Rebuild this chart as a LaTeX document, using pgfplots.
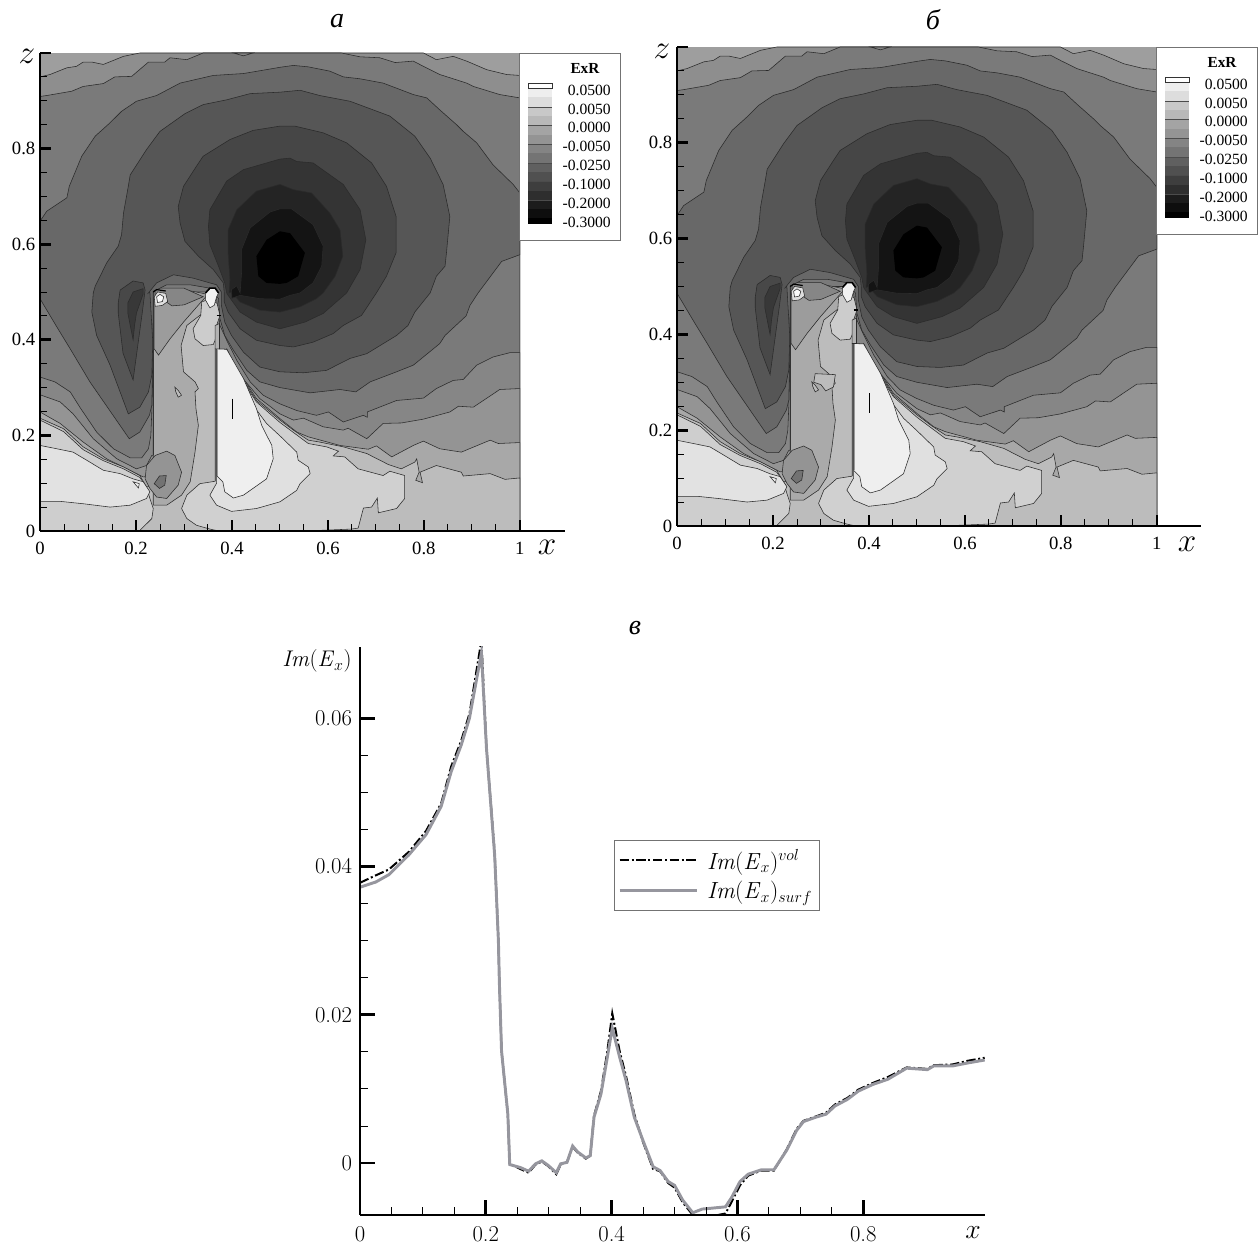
\documentclass[border=0pt]{standalone}
\usepackage{pgfplots}
\usepackage{fontspec}
\pgfplotsset{compat=1.18}
\newfontfamily\ts{Liberation Serif}
\definecolor{lc}{gray}{0.17}
\definecolor{gs}{RGB}{150,150,158}
\newcommand{\dg}[1]{\definecolor{g#1}{RGB}{#1,#1,#1}}
\dg{158}\dg{142}\dg{148}\dg{138}\dg{122}\dg{132}\dg{134}\dg{168}\dg{188}\dg{170}\dg{156}\dg{114}\dg{206}\dg{226}\dg{240}\dg{208}\dg{224}\dg{239}\dg{204}\dg{178}\dg{104}\dg{86}\dg{70}\dg{52}\dg{36}\dg{20}\dg{72}\dg{56}\dg{222}\dg{250}\dg{242}
\pgfplotsset{
  fld/.style={fill=#1,draw=lc,line width=0.42pt,no marks,forget plot},
  nol/.style={fill=#1,draw=none,no marks,forget plot},
  panel/.style={
    scale only axis,axis on top,axis lines=left,clip=true,
    axis line style={-,line width=2.2pt,black},
    tick align=inside,
    major tick length=8pt,minor tick length=5pt,
    major tick style={line width=2pt,black},
    minor tick style={line width=0.7pt,black},
    minor x tick num=3,minor y tick num=3,
    tick label style={font=\fontsize{14}{14}\selectfont\ts},
    xticklabel style={yshift=-4.5pt},
    xtick={0,0.2,0.4,0.6,0.8,1},xticklabels={0,0.2,0.4,0.6,0.8,1},
    ytick={0,0.2,0.4,0.6,0.8,1},yticklabels={0,0.2,0.4,0.6,0.8,{}},
    ymin=0,ymax=1,xmin=0,
  }
}
\newcommand{\contours}{%
\addplot[nol=g158] coordinates {(0,0)(1,0)(1,1)(0,1)} --cycle;
\addplot[fld=g142] coordinates {(0,.950)(.021,.955)(.056,.969)(.076,.972)(.090,.981)(.108,.981)(.132,.976)(.174,.993)(.208,1)(.799,1)(.826,.986)(.861,.993)(.889,.983)(.931,.965)(.972,.955)(1,.953)(1,0)(0,0)} --cycle;
\addplot[fld=g122] coordinates {(0,.909)(.014,.911)(.066,.920)(.090,.930)(.132,.936)(.156,.950)(.191,.951)(.226,.981)(.260,.981)(.271,.990)(.306,.986)(.340,1)(.628,1)(.667,.992)(.708,.990)(.740,.980)(.778,.983)(.799,.972)(.833,.955)(.889,.937)(.903,.930)(.958,.913)(1,.906)(1,0)(0,0)} --cycle;
\addplot[fld=g132] coordinates {(.403,1)(.424,.994)(.444,1)} --cycle;
% lower bands
\addplot[fld=g134] coordinates {(0,.322)(.031,.312)(.063,.291)(.083,.259)(.118,.207)(.153,.172)(.188,.153)(.212,.153)(.226,.172)(.231,.2)(.233,.25)(.236,.36)(.236,.49)(.26,.49)(.368,.486)(.375,.430)(.389,.399)(.410,.357)(.438,.312)(.465,.284)(.5,.266)(.535,.252)(.576,.242)(.601,.249)(.632,.228)(.674,.242)(.682,.238)(.682,.249)(.743,.273)(.799,.278)(.826,.298)(.861,.315)(.882,.317)(.910,.347)(.944,.364)(.979,.373)(1,.373)(1,0)(0,0)} --cycle;
\addplot[fld=g148] coordinates {(0,.285)(.042,.270)(.069,.245)(.111,.193)(.160,.151)(.201,.130)(.222,.137)(.233,.158)(.26,.16)(.389,.381)(.417,.326)(.458,.277)(.5,.245)(.528,.232)(.549,.236)(.590,.218)(.632,.211)(.642,.215)(.681,.193)(.715,.225)(.753,.226)(.799,.234)(.854,.249)(.872,.261)(.903,.259)(.958,.296)(1,.298)(1,0)(0,0)} --cycle;
\addplot[fld=g168] coordinates {(0,.249)(.042,.225)(.090,.186)(.139,.151)(.181,.130)(.215,.113)(.26,.12)(.392,.371)(.417,.329)(.451,.277)(.5,.235)(.535,.207)(.559,.197)(.625,.179)(.684,.171)(.701,.178)(.733,.155)(.778,.179)(.799,.188)(.833,.172)(.878,.165)(.938,.190)(.955,.183)(1,.185)(1,0)(0,0)} --cycle;
\addplot[fld=g188] coordinates {(0,.236)(.049,.214)(.090,.176)(.132,.151)(.174,.134)(.208,.116)(.222,.092)(.26,.1)(.389,.380)(.417,.326)(.451,.273)(.5,.232)(.528,.211)(.559,.190)(.583,.186)(.632,.176)(.681,.162)(.726,.139)(.753,.130)(.781,.144)(.785,.151)(.790,.123)(.783,.106)(.797,.101)(.792,.123)(.826,.137)(.878,.123)(.882,.115)(.938,.120)(.969,.108)(1,.111)(1,0)(0,0)} --cycle;
% mid region between the plates
\addplot[nol=g188] coordinates {(.236,.002)(.236,.5)(.366,.5)(.366,.002)} --cycle;
\addplot[fld=g170] coordinates {(.347,.462)(.306,.430)(.294,.388)(.299,.333)(.323,.312)(.330,.298)(.323,.291)(.325,.256)(.330,.221)(.323,.165)(.313,.103)(.295,.075)(.264,.054)(.236,.054)(.236,.5)(.347,.5)} --cycle;
\addplot[fld=g156] coordinates {(.238,.381)(.247,.368)(.271,.402)(.299,.437)(.333,.476)(.35,.495)(.300,.505)(.238,.505)} --cycle;
\addplot[fld=g134] coordinates {(.240,.495)(.275,.471)(.3,.473)(.34,.490)(.30,.508)(.24,.508)} --cycle;
\addplot[fld=g148] coordinates {(.240,.158)(.264,.167)(.281,.158)(.295,.123)(.288,.096)(.264,.068)(.243,.071)(.229,.089)(.219,.109)(.222,.137)} --cycle;
\addplot[fld=g114] coordinates {(.238,.099)(.249,.115)(.263,.116)(.260,.096)(.249,.089)} --cycle;
\addplot[fld=g188] coordinates {(.281,.301)(.288,.294)(.295,.284)(.288,.280)(.283,.291)} --cycle;
% lower left
\addplot[fld=g206] coordinates {(0,.232)(.049,.208)(.090,.170)(.132,.147)(.174,.130)(.208,.112)(.222,.092)(.229,.068)(.236,.047)(.233,.026)(.208,.001)(0,.001)} --cycle;
\addplot[fld=g226] coordinates {(0,.179)(.035,.172)(.069,.165)(.104,.144)(.132,.127)(.167,.120)(.194,.109)(.215,.103)(.229,.082)(.222,.068)(.188,.054)(.146,.050)(.090,.057)(.042,.062)(0,.062)} --cycle;
\addplot[fld=g240] coordinates {(.194,.103)(.207,.099)(.205,.090)} --cycle;
% body right of the second plate
\addplot[fld=g208] coordinates {(.389,.380)(.417,.322)(.451,.270)(.5,.227)(.559,.183)(.597,.176)(.622,.167)(.611,.157)(.635,.155)(.663,.130)(.715,.116)(.729,.125)(.760,.116)(.760,.068)(.743,.047)(.705,.038)(.703,.069)(.691,.050)(.674,.048)(.663,.006)(.649,.004)(.576,.001)(.368,.001)(.354,.004)(.326,.012)(.306,.026)(.295,.047)(.306,.075)(.333,.099)(.365,.104)(.365,.381)} --cycle;
\addplot[fld=g224] coordinates {(.354,.075)(.368,.054)(.399,.041)(.451,.047)(.5,.061)(.535,.085)(.542,.099)(.563,.120)(.559,.134)(.538,.148)(.535,.165)(.5,.199)(.472,.225)(.444,.263)(.417,.312)(.39,.375)(.368,.38)(.368,.10)} --cycle;
\addplot[fld=g239] coordinates {(.368,.381)(.389,.380)(.396,.368)(.424,.319)(.451,.256)(.462,.221)(.483,.179)(.486,.151)(.472,.109)(.424,.075)(.403,.069)(.385,.082)(.381,.103)(.368,.116)(.368,.221)} --cycle;
\addplot[fld=g204] coordinates {(.337,.479)(.335,.451)(.319,.423)(.323,.402)(.340,.388)(.361,.390)(.365,.399)(.368,.430)(.375,.451)(.369,.476)(.354,.486)} --cycle;
\addplot[fld=g178] coordinates {(.365,.381)(.365,.43)(.374,.434)(.374,.381)} --cycle;
% dark field
\addplot[fld=g104] coordinates {(0,.648)(.014,.669)(.056,.697)(.061,.721)(.087,.784)(.115,.826)(.146,.854)(.170,.878)(.201,.899)(.243,.911)(.292,.937)(.361,.953)(.424,.957)(.5,.970)(.528,.974)(.559,.971)(.604,.962)(.632,.950)(.667,.946)(.715,.937)(.778,.913)(.806,.906)(.833,.881)(.868,.850)(.882,.836)(.910,.812)(.944,.766)(.986,.725)(1,.707)(1,.578)(.962,.564)(.913,.498)(.896,.472)(.888,.450)(.844,.409)(.833,.392)(.778,.347)(.743,.333)(.688,.312)(.658,.291)(.625,.296)(.563,.289)(.5,.300)(.458,.312)(.431,.336)(.403,.378)(.385,.409)(.375,.444)(.372,.486)(.354,.508)(.313,.515)(.264,.515)(.236,.501)(.235,.361)(.233,.263)(.228,.242)(.208,.207)(.186,.193)(.104,.312)(.063,.381)(.035,.427)(0,.486)} --cycle;
\addplot[fld=g86] coordinates {(.111,.498)(.115,.512)(.139,.561)(.163,.596)(.170,.620)(.174,.665)(.184,.721)(.188,.745)(.222,.798)(.25,.836)(.302,.873)(.340,.892)(.389,.902)(.438,.915)(.5,.918)(.542,.922)(.583,.911)(.646,.899)(.729,.868)(.781,.826)(.813,.780)(.840,.725)(.854,.658)(.847,.582)(.844,.554)(.826,.533)(.813,.498)(.781,.458)(.767,.430)(.743,.409)(.681,.371)(.646,.361)(.597,.336)(.549,.331)(.5,.333)(.458,.343)(.424,.374)(.399,.409)(.385,.437)(.378,.472)(.378,.5)(.368,.515)(.319,.529)(.278,.536)(.243,.519)(.226,.498)(.229,.5)(.235,.395)(.233,.326)(.226,.291)(.208,.259)(.184,.245)(.146,.347)(.118,.409)(.108,.458)} --cycle;
\addplot[fld=g70] coordinates {(.384,.498)(.382,.519)(.361,.547)(.330,.575)(.302,.606)(.292,.644)(.288,.679)(.299,.721)(.326,.763)(.340,.784)(.396,.819)(.444,.838)(.5,.847)(.531,.847)(.590,.833)(.639,.812)(.691,.770)(.722,.721)(.742,.658)(.742,.582)(.722,.533)(.701,.498)(.670,.451)(.632,.430)(.611,.413)(.569,.395)(.528,.385)(.5,.388)(.451,.399)(.417,.423)(.392,.458)(.384,.479)} --cycle;
\addplot[fld=g52] coordinates {(.389,.498)(.385,.519)(.372,.554)(.354,.599)(.351,.637)(.354,.672)(.389,.732)(.424,.756)(.5,.778)(.521,.780)(.535,.773)(.569,.770)(.632,.725)(.667,.672)(.679,.609)(.667,.547)(.639,.498)(.590,.455)(.552,.437)(.5,.423)(.451,.437)(.417,.458)(.392,.493)} --cycle;
\addplot[fld=g36] coordinates {(.394,.498)(.396,.526)(.392,.582)(.392,.630)(.410,.672)(.451,.711)(.5,.725)(.528,.714)(.566,.707)(.604,.665)(.625,.630)(.631,.575)(.615,.533)(.590,.498)(.576,.486)(.542,.469)(.5,.458)(.458,.462)(.417,.479)(.399,.5)} --cycle;
\addplot[fld=g20] coordinates {(.417,.498)(.420,.540)(.420,.589)(.438,.634)(.479,.667)(.5,.674)(.524,.674)(.569,.641)(.590,.596)(.587,.554)(.569,.519)(.542,.498)(.521,.493)(.5,.485)(.458,.486)(.417,.493)(.40,.487)(.399,.505)(.41,.513)} --cycle;
\addplot[nol=black] coordinates {(.5,.627)(.472,.609)(.451,.575)(.455,.533)(.472,.519)(.5,.517)(.514,.519)(.538,.533)(.552,.582)(.521,.623)} --cycle;
% lobe left of the first plate
\addplot[fld=g72] coordinates {(.163,.477)(.167,.504)(.194,.523)(.215,.519)(.219,.504)(.213,.456)(.194,.316)(.173,.372)(.163,.456)} --cycle;
\addplot[fld=g56] coordinates {(.183,.477)(.194,.500)(.215,.507)(.215,.496)(.201,.456)(.197,.43)(.194,.40)(.19,.42)(.183,.456)} --cycle;
% plate tips
\addplot[fld=g222] coordinates {(.238,.49)(.245,.5)(.262,.497)(.266,.48)(.255,.472)(.24,.47)} --cycle;
\addplot[fld=g250] coordinates {(.243,.49)(.25,.495)(.258,.49)(.255,.48)(.245,.478)} --cycle;
\addplot[fld=g242] coordinates {(.345,.498)(.354,.508)(.365,.508)(.372,.498)(.368,.49)(.363,.472)(.354,.467)(.345,.483)} --cycle;
\addplot[black,line width=1.2pt,no marks,forget plot] coordinates {(.345,.498)(.354,.508)(.365,.508)(.372,.498)};
\addplot[black,line width=0.9pt,no marks,forget plot] coordinates {(.236,.5)(.243,.505)(.262,.502)};
% plates
\addplot[black!80,line width=0.75pt,no marks,forget plot] coordinates {(.236,.158)(.236,.49)};
\addplot[black!65,line width=0.65pt,no marks,forget plot] coordinates {(.365,.104)(.365,.38)};
\addplot[black!40,line width=0.5pt,no marks,forget plot] coordinates {(.369,.116)(.369,.38)};
\addplot[black,line width=1pt,no marks,forget plot] coordinates {(.368,.451)(.378,.451)};
\addplot[black,line width=0.8pt,no marks,forget plot] coordinates {(.402,.277)(.402,.235)};
}
\newcommand{\bandbar}{%
  \foreach \a/\b/\c in {88/97/238,97/107/221,107/116/200,116/125/184,125/135/164,135/144/148,144/153/132,153/163/116,163/172/96,172/181/80,181/191/62,191/200/46,200/209/28,209/218/14,218/224/0}{
    \pgfmathsetmacro{\g}{\c/255}\definecolor{bb}{gray}{\g}
    \fill[bb] (528,-\a) rectangle (552,-\b);
  }
  \draw[black!80,line width=0.35pt] (528,-83) rectangle (552,-88);
  \foreach \yy in {107,125,144,163,181,200}{\draw[black!70,line width=0.35pt] (528,-\yy)--(552,-\yy);}
}
\newcommand{\legendbox}{%
  \draw[fill=white,draw=black!55,line width=0.5pt] (519.5,-53) rectangle (620,-240);
  \node[font=\fontsize{11.5}{12}\selectfont\ts\bfseries] at (585,-68.5) {ExR};
  \bandbar
  \foreach \t/\yy in {0.0500/90.5,0.0050/109,0.0000/127.5,-0.0050/146,-0.0250/165,-0.1000/184,-0.2000/203,-0.3000/222}{
    \node[anchor=east,inner sep=0pt,font=\fontsize{11.7}{12}\selectfont\ts] at (611,-\yy) {\t};
  }
}
\begin{document}
\begin{tikzpicture}[x=0.75pt,y=0.75pt]
\useasboundingbox (0,0) rectangle (1258,1245);
% panel a
\begin{axis}[panel,at={(30pt,535.5pt)},anchor=south west,width=393.75pt,height=358.5pt,xmax=1.094]
\contours
\end{axis}
% panel b
\begin{axis}[panel,at={(507.75pt,539.25pt)},anchor=south west,width=393pt,height=359.25pt,xmax=1.092]
\contours
\addplot[fld=g188] coordinates {(.288,.318)(.33,.316)(.326,.29)(.31,.282)(.30,.295)(.285,.30)} --cycle;
\end{axis}
\begin{scope}[shift={(0,1245)}]
  \legendbox
  \begin{scope}[shift={(637,6)}]\legendbox\end{scope}
  \node[font=\fontsize{21}{22}\selectfont\ts\itshape] at (337,-21) {а};
  \node[font=\fontsize{21}{22}\selectfont\ts\itshape] at (933,-20) {б};
  \node[font=\fontsize{21}{22}\selectfont\ts\itshape] at (635,-628) {в};
  \node[font=\fontsize{24}{24}\selectfont] at (27,-56) {$z$};
  \node[font=\fontsize{24}{24}\selectfont] at (547,-547) {$x$};
  \node[font=\fontsize{24}{24}\selectfont] at (662,-51) {$z$};
  \node[font=\fontsize{24}{24}\selectfont] at (1187,-544) {$x$};
  \node[font=\fontsize{22}{22}\selectfont] at (973,-1233) {$x$};
  \node[font=\fontsize{17}{18}\selectfont,anchor=east,inner sep=0pt] at (352,-661) {\textit{Im}(\textit{E}$_x$)};
\end{scope}
% panel c
\begin{axis}[scale only axis,axis on top,axis lines=left,at={(270pt,22.5pt)},anchor=south west,width=468.75pt,height=426pt,
  xmin=0,xmax=0.9935,ymin=-0.007,ymax=0.0696,scaled y ticks=false,
  axis line style={-,line width=2.2pt,black},tick align=inside,
  major tick length=11pt,minor tick length=6pt,
  major tick style={line width=2pt,black},minor tick style={line width=0.7pt,black},
  xtick={0,0.2,0.4,0.6,0.8},xticklabels={0,0.2,0.4,0.6,0.8},
  ytick={0,0.02,0.04,0.06},yticklabels={0,0.02,0.04,0.06},
  minor x tick num=3,minor y tick num=3,
  tick label style={font=\fontsize{17}{17}\selectfont},
  xticklabel style={yshift=-5pt},
  yticklabel style={xshift=-2.5pt},
  legend style={at={(0.4064,0.660)},anchor=north west,draw=black!55,font=\fontsize{17.5}{18}\selectfont,inner xsep=3pt,inner ysep=5pt,row sep=3.5pt,cells={anchor=west}},
  legend image code/.code={\draw[#1] (0pt,0pt)--(58pt,0pt);},
  legend cell align=left]
\addplot[black,line width=1.5pt,dash pattern=on 7pt off 2pt on 1.5pt off 2pt,no marks] coordinates {(0,.0378)(.025,.0388)(.046,.0396)(.078,.0420)(.105,.0448)(.129,.0485)(.145,.0535)(.161,.0570)(.174,.0606)(.193,.0705)(.201,.0560)(.214,.0420)(.22,.0300)(.2215,.0245)(.225,.0151)(.235,.0066)(.238,-.0001)(.255,-.0008)(.268,-.0013)(.279,-.0002)(.289,.0002)(.299,-.0004)(.312,-.0015)(.319,-.0002)(.329,.0001)(.338,.0022)(.346,.0014)(.359,.0006)(.366,.001)(.372,.0064)(.383,.0097)(.393,.0150)(.401,.0202)(.413,.0150)(.423,.0117)(.436,.0066)(.45,.0028)(.466,-.0008)(.477,-.0011)(.49,-.0027)(.5,-.0033)(.513,-.0053)(.529,-.0070)(.544,-.0072)(.557,-.0072)(.581,-.0068)(.591,-.0052)(.604,-.0030)(.617,-.0017)(.638,-.0010)(.658,-.0010)(.678,.0018)(.694,.0046)(.705,.0057)(.725,.0063)(.741,.0068)(.755,.0079)(.775,.0088)(.792,.0099)(.815,.0108)(.839,.0116)(.869,.0129)(.902,.0127)(.912,.0132)(.942,.0133)(.966,.0138)(.993,.0142)};
\addlegendentry{\hspace{4.5pt}\textit{Im}(\textit{E}$_x$)$^{vol}$\hspace{-4.5pt}}
\addplot[gs,line width=2.2pt,no marks] coordinates {(0,.0372)(.025,.0379)(.046,.0389)(.078,.0416)(.105,.0443)(.129,.0481)(.145,.0528)(.161,.0564)(.174,.06)(.193,.0688)(.201,.056)(.214,.0416)(.22,.030)(.2215,.0245)(.225,.0151)(.235,.0066)(.238,-.0002)(.255,-.0006)(.268,-.0011)(.279,-.0001)(.289,.0003)(.299,-.0003)(.312,-.0013)(.319,-.0001)(.329,.0001)(.338,.0023)(.346,.0015)(.359,.0007)(.366,.001)(.372,.0062)(.383,.0093)(.393,.0142)(.401,.0182)(.413,.0142)(.423,.0111)(.436,.0062)(.45,.003)(.466,-.0005)(.477,-.001)(.49,-.0025)(.5,-.003)(.513,-.005)(.529,-.0067)(.544,-.0062)(.557,-.0061)(.581,-.0059)(.591,-.0046)(.604,-.0025)(.617,-.0015)(.638,-.0009)(.658,-.0009)(.678,.0017)(.694,.0044)(.705,.0056)(.725,.0062)(.741,.0066)(.755,.0077)(.775,.0086)(.792,.0097)(.815,.0106)(.839,.0113)(.869,.0128)(.902,.0126)(.912,.0131)(.942,.0131)(.966,.0135)(.993,.0139)};
\addlegendentry{\hspace{4.5pt}\textit{Im}(\textit{E}$_x$)$_{surf}$\hspace{-4.5pt}}
\end{axis}
\end{tikzpicture}
\end{document}
